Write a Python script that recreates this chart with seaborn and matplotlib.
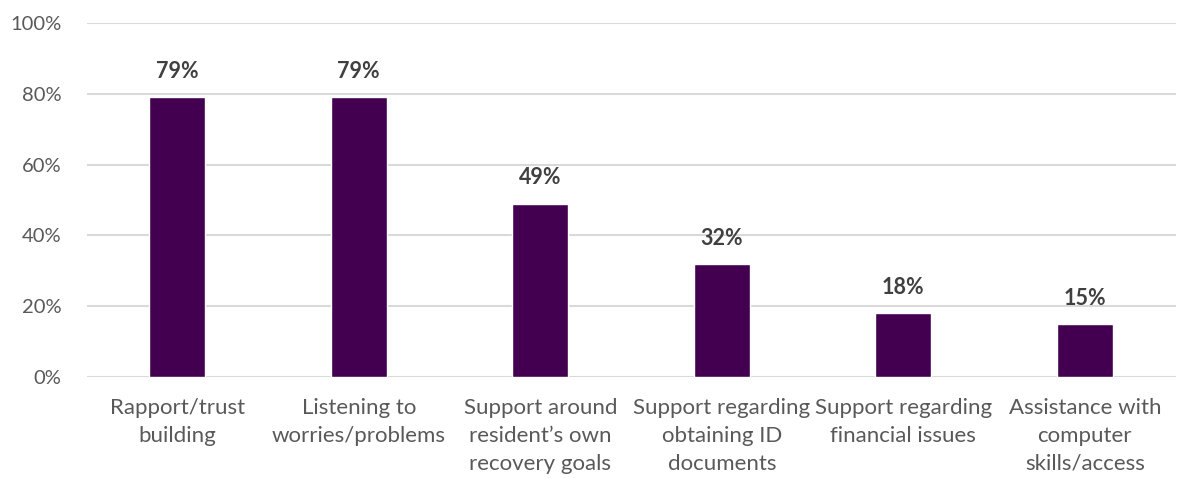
import matplotlib
matplotlib.use("Agg")
import matplotlib.pyplot as plt
import seaborn as sns
import pandas as pd

categories = [
    "Rapport/trust\nbuilding",
    "Listening to\nworries/problems",
    "Support around\nresident\u2019s own\nrecovery goals",
    "Support regarding\nobtaining ID\ndocuments",
    "Support regarding\nfinancial issues",
    "Assistance with\ncomputer\nskills/access",
]
values = [79, 79, 49, 32, 18, 15]
yticks = [0, 20, 40, 60, 80, 100]
ytick_labels = ["0%", "20%", "40%", "60%", "80%", "100%"]

sns.set_theme(style="white")
plt.rcParams["font.family"] = ["Lato", "DejaVu Sans"]

df = pd.DataFrame({"cat": categories, "val": values})

fig = plt.figure(figsize=(11.85, 4.78), dpi=100)
ax = fig.add_axes([0.073, 0.211, 0.919, 0.741])
sns.barplot(data=df, x="cat", y="val", color="#440050", width=0.31,
            saturation=1, ax=ax, zorder=3)

ax.set_ylim(0, 100)
ax.set_xlim(-0.5, len(categories) - 0.5)
ax.set_yticks(yticks)
ax.set_yticklabels(ytick_labels)
ax.yaxis.grid(True, color="#d9d9d9", linewidth=1.5, zorder=0)
ax.set_axisbelow(True)
for s in ax.spines.values():
    s.set_visible(False)
ax.set_xlabel("")
ax.set_ylabel("")
ax.tick_params(axis="y", labelsize=14.5, labelcolor="#595959", length=0, pad=18)
ax.tick_params(axis="x", labelsize=16, labelcolor="#595959", length=0, pad=15)
for lbl in ax.get_xticklabels():
    lbl.set_linespacing(1.5)

for i, v in enumerate(values):
    ax.annotate(f"{v}%", (i, v), xytext=(0, 11), textcoords="offset points",
                ha="center", va="bottom", fontsize=15.5, fontweight="bold",
                color="#404040")

fig.savefig("out.png", dpi=100)
